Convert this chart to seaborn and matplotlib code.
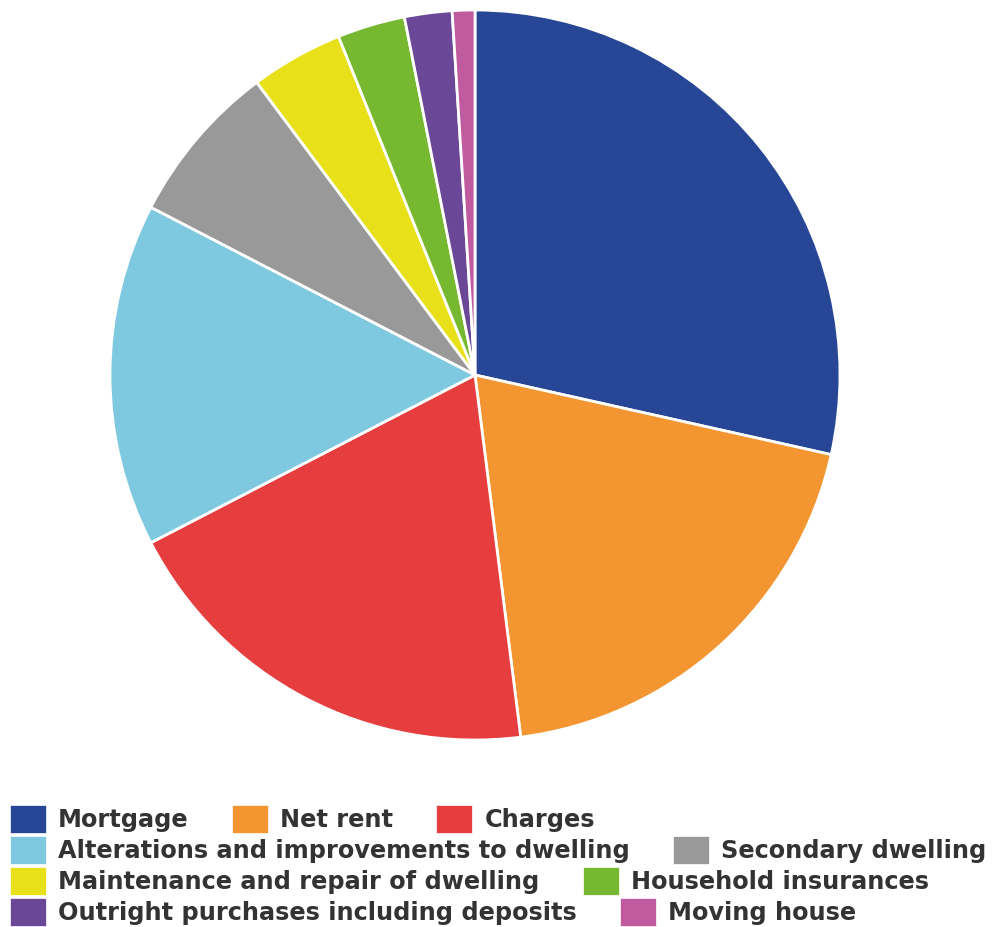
import matplotlib
matplotlib.use("Agg")
import matplotlib.pyplot as plt
import matplotlib.patches as mpatches
import seaborn as sns

# --- DATA (shares in %) ---
CATEGORIES = [
    "Mortgage",
    "Net rent",
    "Charges",
    "Alterations and improvements to dwelling",
    "Secondary dwelling",
    "Maintenance and repair of dwelling",
    "Household insurances",
    "Outright purchases including deposits",
    "Moving house",
]
SHARES = [28.5, 19.5, 19.4, 15.2, 7.2, 4.1, 3.0, 2.1, 1.0]
COLORS = ["#274796", "#F39530", "#E63E3F", "#7EC9E0", "#999999",
          "#E8E119", "#76B82F", "#6A4797", "#C15BA0"]

# legend rows as they flow in the reference
LEGEND_ROWS = [[0, 1, 2], [3, 4], [5, 6], [7, 8]]

sns.set_theme(style="white")
plt.rcParams['font.family'] = ['DejaVu Sans']

palette = sns.color_palette(COLORS)

fig = plt.figure(figsize=(9.93, 9.27), dpi=100)
ax = fig.add_axes([110 / 993, 1 - 740 / 927, 730 / 993, 730 / 927])

ax.pie(SHARES, colors=palette, startangle=90, counterclock=False,
       wedgeprops=dict(edgecolor="white", linewidth=2))
ax.set_xlim(-1.0, 1.0)
ax.set_ylim(-1.0, 1.0)
ax.set_aspect("equal")
ax.axis("off")

FS = 17.3
row_y = [819, 850, 881, 912]
for row, y in zip(LEGEND_ROWS, row_y):
    handles = [mpatches.Patch(facecolor=palette[i], edgecolor="white", linewidth=0.5)
               for i in row]
    labels = [CATEGORIES[i] for i in row]
    leg = fig.legend(handles, labels, ncol=len(row), loc="center left",
                     bbox_to_anchor=(10 / 993, 1 - y / 927),
                     frameon=False, borderpad=0, borderaxespad=0,
                     handlelength=1.5, handleheight=1.4, handletextpad=0.5,
                     columnspacing=1.8,
                     prop=dict(size=FS, weight="bold"))
    for t in leg.get_texts():
        t.set_color("#333333")

fig.savefig("out.png", dpi=100)
